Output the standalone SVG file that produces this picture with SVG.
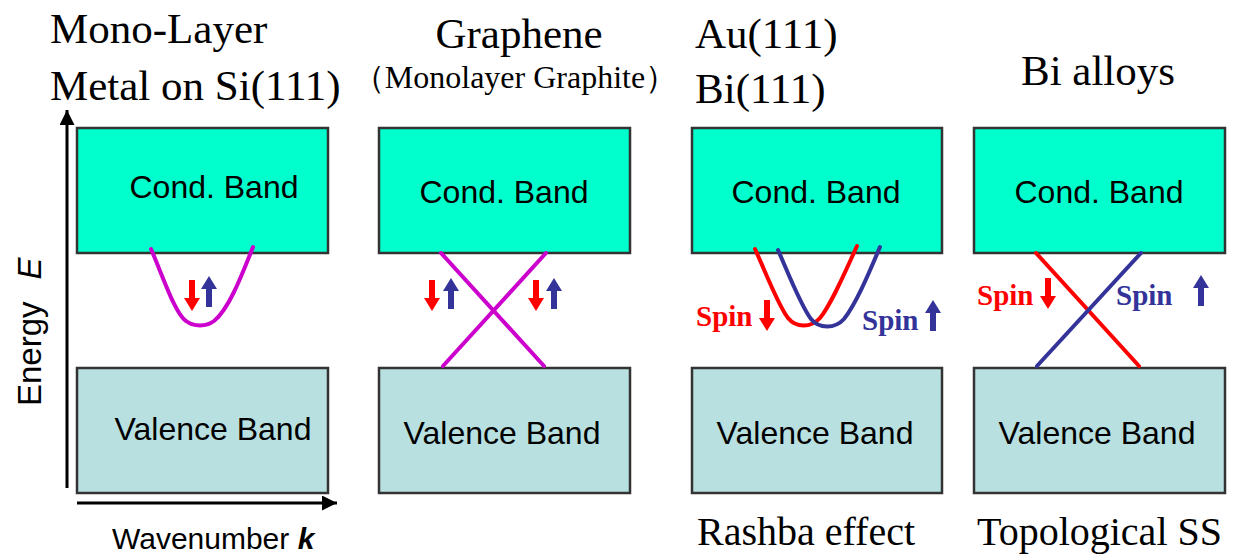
<svg xmlns="http://www.w3.org/2000/svg" width="1233" height="554" viewBox="0 0 1233 554">
<style>
.title{font-family:"Liberation Serif","Times New Roman",serif;font-size:43px;fill:#000}
.sub{font-family:"Liberation Serif","Times New Roman",serif;font-size:32px;fill:#000}
.bottom{font-family:"Liberation Serif","Times New Roman",serif;font-size:40px;fill:#000}
.lbl{font-family:"Liberation Sans",Arial,sans-serif;font-size:32px;fill:#000;text-anchor:middle}
.axis{font-family:"Liberation Sans",Arial,sans-serif;font-size:33px;fill:#000}
.axisk{font-family:"Liberation Sans",Arial,sans-serif;font-size:30px;fill:#000}
.cond{fill:#00FFCC;stroke:#333;stroke-width:2.5}
.val{fill:#B8E0E0;stroke:#333;stroke-width:2.5}
.mag{fill:none;stroke:#CC00CC;stroke-width:4;stroke-linecap:round}
.red{fill:none;stroke:#FF0000;stroke-width:4;stroke-linecap:round}
.blue{fill:none;stroke:#333399;stroke-width:4;stroke-linecap:round}
.spinR{font-family:"Liberation Serif","Times New Roman",serif;font-weight:bold;font-size:29px;fill:#FF0000}
.spinB{font-family:"Liberation Serif","Times New Roman",serif;font-weight:bold;font-size:29px;fill:#333399}
</style>
<defs>
<path id="dn" d="M-3,0 H3 V18 H8 L0,31 L-8,18 H-3 Z"/>
<path id="up" d="M-3,31 H3 V13 H8 L0,0 L-8,13 H-3 Z"/>
<marker id="ah" viewBox="0 0 10 10" refX="10" refY="5" markerWidth="5" markerHeight="5" orient="auto" markerUnits="strokeWidth">
<path d="M0,0 L10,5 L0,10 Z" fill="#000"/>
</marker>
</defs>

<g id="axes">
<line x1="67" y1="488" x2="67" y2="110" stroke="#000" stroke-width="3" marker-end="url(#ah)"/>
<line x1="77" y1="503" x2="337" y2="503" stroke="#000" stroke-width="3" marker-end="url(#ah)"/>
<text class="axis" transform="translate(41,406) rotate(-90)">Energy<tspan dx="22" font-style="italic">E</tspan></text>
<text class="axisk" x="112" y="549">Wavenumber <tspan font-weight="bold" font-style="italic">k</tspan></text>
</g>

<g id="panel1">
<text class="title" x="50" y="43">Mono-Layer</text>
<text class="title" x="50" y="100">Metal on Si(111)</text>
<rect class="cond" x="77" y="128" width="251" height="125"/>
<text class="lbl" x="214" y="198">Cond. Band</text>
<rect class="val" x="77" y="368" width="251" height="125"/>
<text class="lbl" x="213" y="440">Valence Band</text>
<path class="mag" d="M151,249 C162,274 175,314 186,321 C194,327 206,327 214,321 C228,310 240,280 253,247"/>
<use href="#dn" x="192" y="280" fill="#FF0000"/>
<use href="#up" x="209" y="276" fill="#333399"/>
</g>

<g id="panel2">
<text class="title" x="519" y="48" text-anchor="middle">Graphene</text>
<text class="sub" x="515" y="88" text-anchor="middle">（Monolayer Graphite）</text>
<rect class="cond" x="379" y="128" width="251" height="125"/>
<text class="lbl" x="504" y="203">Cond. Band</text>
<rect class="val" x="379" y="368" width="251" height="125"/>
<text class="lbl" x="502" y="444">Valence Band</text>
<line class="mag" x1="441" y1="253" x2="544" y2="366"/>
<line class="mag" x1="546" y1="253" x2="443" y2="366"/>
<use href="#dn" x="432" y="280" fill="#FF0000"/>
<use href="#up" x="451" y="278" fill="#333399"/>
<use href="#dn" x="536" y="280" fill="#FF0000"/>
<use href="#up" x="554" y="278" fill="#333399"/>
</g>

<g id="panel3">
<text class="title" x="695" y="48">Au(111)</text>
<text class="title" x="695" y="103">Bi(111)</text>
<rect class="cond" x="692" y="128" width="250" height="125"/>
<text class="lbl" x="816" y="203">Cond. Band</text>
<rect class="val" x="692" y="368" width="250" height="125"/>
<text class="lbl" x="815" y="444">Valence Band</text>
<path class="red" d="M755,249 C766,273 778,305 788,318 C796,328 811,328 820,318 C832,303 845,272 857,246"/>
<path class="blue" d="M778,250 C789,275 801,306 811,319 C819,329 835,329 844,319 C856,304 869,273 880,247"/>
<text class="spinR" x="696" y="326">Spin</text>
<use href="#dn" x="767" y="300" fill="#FF0000"/>
<text class="spinB" x="862" y="330">Spin</text>
<use href="#up" x="933" y="300" fill="#333399"/>
<text class="bottom" x="697" y="545">Rashba effect</text>
</g>

<g id="panel4">
<text class="title" x="1098" y="85" text-anchor="middle">Bi alloys</text>
<rect class="cond" x="974" y="128" width="251" height="125"/>
<text class="lbl" x="1099" y="203">Cond. Band</text>
<rect class="val" x="974" y="368" width="251" height="125"/>
<text class="lbl" x="1097" y="444">Valence Band</text>
<line class="red" x1="1036" y1="253" x2="1139" y2="366"/>
<line class="blue" x1="1141" y1="253" x2="1037" y2="366"/>
<text class="spinR" x="977" y="305">Spin</text>
<use href="#dn" x="1048" y="278" fill="#FF0000"/>
<text class="spinB" x="1116" y="305">Spin</text>
<use href="#up" x="1201" y="275" fill="#333399"/>
<text class="bottom" x="977" y="545">Topological SS</text>
</g>
</svg>
